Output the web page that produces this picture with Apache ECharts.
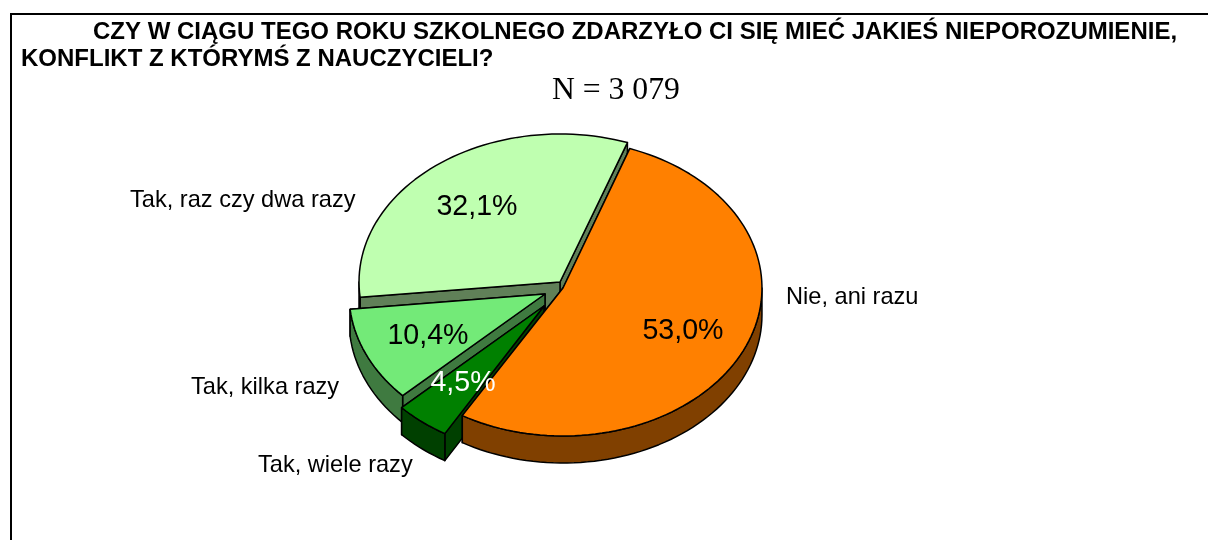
<!DOCTYPE html>
<html>
<head>
<meta charset="utf-8">
<script src="https://cdn.jsdelivr.net/npm/echarts@6/dist/echarts.min.js"></script>
<style>
html,body{margin:0;padding:0;background:#fff}
#main{width:1209px;height:540px}
</style>
</head>
<body>
<div id="main"></div>
<script>
// values, clockwise from the orange slice
var categories = ['Nie, ani razu', 'Tak, wiele razy', 'Tak, kilka razy', 'Tak, raz czy dwa razy'];
var values = [53.0, 4.5, 10.4, 32.1];
var valueLabels = ['53,0%', '4,5%', '10,4%', '32,1%'];

var topColors = ['#ff8000', '#008000', '#73ea78', '#bfffb0'];
var sideColors = ['#804000', '#004000', '#3f7a40', '#608058'];
var pctColors = ['#000', '#fff', '#000', '#000'];
var explode = [[3, 0], [-16, 18], [-15, 6], [0, -6]];
var widthScale = [0.985, 0.97, 0.97, 0.995];
var pctPos = [[683, 331], [463, 383], [428, 336], [477, 207]];
var namePos = [[786, 297], [258, 465], [191, 387], [130, 200]];
var drawOrder = [3, 2, 1, 0];

var cx = 560, cy = 288, rx = 202, ry = 148, depth = 27, startAngle = 19.6;

var total = 0;
values.forEach(function (v) { total += v; });
var starts = [], acc = 0;
values.forEach(function (v) {
    starts.push(startAngle + acc / total * 360);
    acc += v;
});

function pt(c, deg, k) {
    var a = deg * Math.PI / 180;
    return [c[0] + rx * k * Math.sin(a), c[1] - ry * Math.cos(a)];
}
function down(p) { return [p[0], p[1] + depth]; }

function arc(c, a0, a1, k) {
    var pts = [];
    var n = Math.max(2, Math.ceil((a1 - a0) / 2));
    for (var i = 0; i <= n; i++) pts.push(pt(c, a0 + (a1 - a0) * i / n, k));
    return pts;
}

function poly(points, fill) {
    return {
        type: 'polygon',
        shape: { points: points },
        style: { fill: fill, stroke: '#000', lineWidth: 1.5, lineJoin: 'round' }
    };
}

function renderItem(params, api) {
    var i = drawOrder[params.dataIndex];
    var sweep = api.value(1) / total * 360;
    var a0 = starts[i], a1 = a0 + sweep, k = widthScale[i];
    var c = [cx + explode[i][0], cy + explode[i][1]];
    var kids = [];

    // cut faces, the far one first
    [a1, a0].forEach(function (a) {
        var p = pt(c, a, k);
        kids.push(poly([c, p, down(p), down(c)], sideColors[i]));
    });
    // outer wall, only the part facing the viewer
    var w0 = Math.max(a0, 90), w1 = Math.min(a1, 270);
    if (w1 > w0) {
        var wall = arc(c, w0, w1, k);
        kids.push(poly(wall.concat(wall.map(down).reverse()), sideColors[i]));
    }
    // top
    kids.push(poly([c].concat(arc(c, a0, a1, k)), topColors[i]));
    return { type: 'group', children: kids };
}

// slices first, texts in a second pass so nothing covers them
function renderLabels(params, api) {
    var i = drawOrder[params.dataIndex];
    return {
        type: 'group',
        children: [{
            type: 'text',
            style: {
                x: pctPos[i][0], y: pctPos[i][1], text: valueLabels[i],
                font: '28.6px "Liberation Sans"', fill: pctColors[i],
                align: 'center', verticalAlign: 'middle'
            }
        }, {
            type: 'text',
            style: {
                x: namePos[i][0], y: namePos[i][1], text: categories[i],
                font: '23.6px "Liberation Sans"', fill: '#000',
                align: 'left', verticalAlign: 'middle'
            }
        }]
    };
}

var rows = drawOrder.map(function (i) { return [categories[i], values[i]]; });

var chart = echarts.init(document.getElementById('main'), null, { renderer: 'canvas' });
var option = {
    animation: false,
    backgroundColor: '#fff',
    title: [{
        text: 'CZY W CIĄGU TEGO ROKU SZKOLNEGO ZDARZYŁO CI SIĘ MIEĆ JAKIEŚ NIEPOROZUMIENIE,',
        left: 88, top: 15,
        textStyle: { fontFamily: 'Liberation Sans', fontSize: 24, fontWeight: 'bold', color: '#000' }
    }, {
        text: 'KONFLIKT Z KTÓRYMŚ Z NAUCZYCIELI?',
        left: 16, top: 42,
        textStyle: { fontFamily: 'Liberation Sans', fontSize: 24, fontWeight: 'bold', color: '#000' }
    }, {
        text: 'N = 3 079',
        left: 547, top: 70,
        textStyle: { fontFamily: 'Liberation Serif', fontSize: 31.7, fontWeight: 'normal', color: '#000' }
    }],
    graphic: [{
        type: 'polyline',
        shape: { points: [[11, 540], [11, 14], [1208, 14]] },
        style: { stroke: '#000', lineWidth: 2, fill: null }
    }],
    series: [
        { type: 'custom', coordinateSystem: 'none', renderItem: renderItem, data: rows, encode: { value: 1 }, silent: true, z: 2 },
        { type: 'custom', coordinateSystem: 'none', renderItem: renderLabels, data: rows, encode: { value: 1 }, silent: true, z: 3 }
    ]
};
chart.setOption(option);
</script>
</body>
</html>
